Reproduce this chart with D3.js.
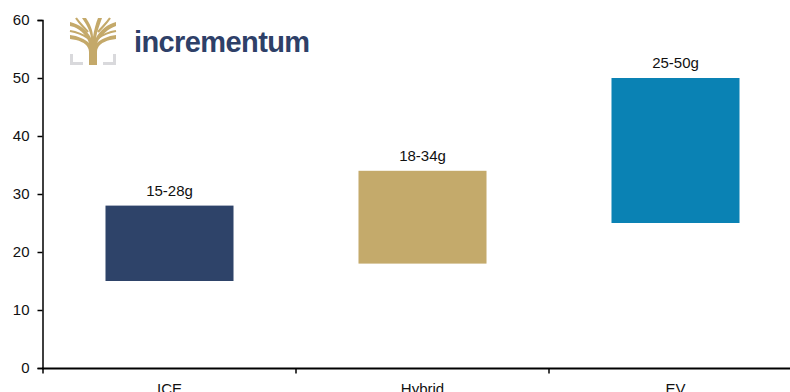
<!DOCTYPE html>
<html><head><meta charset="utf-8">
<script src="https://cdn.jsdelivr.net/npm/d3@7"></script>
<style>body{margin:0;background:#fff;overflow:hidden;}svg{display:block;font-family:"Liberation Sans",Arial,sans-serif;}</style>
</head><body>
<svg id="c" width="790" height="392"></svg>
<script>
const categories = ["ICE", "Hybrid", "EV"];
const lowValues = [15, 18, 25];
const highValues = [28, 34, 50];
const rangeLabels = ["15-28g", "18-34g", "25-50g"];
const barColors = ["#2e4369", "#c4aa6b", "#0a82b4"];
const yTicks = [0, 10, 20, 30, 40, 50, 60];

const svg = d3.select("#c");
const x = d3.scaleBand().domain(categories).range([43, 802]).paddingInner(0.494).paddingOuter(0.247);
const y = d3.scaleLinear().domain([0, 60]).range([368, 20]);

const data = categories.map((c, i) => ({c, lo: lowValues[i], hi: highValues[i], label: rangeLabels[i], color: barColors[i]}));

svg.selectAll("rect.bar").data(data).join("rect").attr("class","bar")
  .attr("x", d => x(d.c)).attr("width", x.bandwidth())
  .attr("y", d => y(d.hi)).attr("height", d => y(d.lo) - y(d.hi))
  .attr("fill", d => d.color);

svg.selectAll("text.lbl").data(data).join("text").attr("class","lbl")
  .attr("x", d => x(d.c) + x.bandwidth()/2).attr("y", d => y(d.hi) - 10)
  .attr("text-anchor","middle").attr("font-size", 15).attr("fill","#111").text(d => d.label);

// y axis
const ya = svg.append("g").attr("transform","translate(42.5,0)")
  .call(d3.axisLeft(y).tickValues(yTicks).tickSize(5).tickPadding(8));
ya.select(".domain").attr("stroke","#000").attr("stroke-width",1.5);
ya.selectAll(".tick line").attr("stroke","#000").attr("stroke-width",1.5);
ya.selectAll(".tick text").attr("font-size",15).attr("fill","#111").attr("font-family","Liberation Sans, Arial, sans-serif");

// x axis
const xb = d3.scalePoint().domain(d3.range(categories.length + 1)).range([43, 802]);
const xa = svg.append("g").attr("transform","translate(0,368.5)");
xa.append("line").attr("x1",42).attr("x2",790).attr("stroke","#000").attr("stroke-width",1.8);
xa.selectAll("line.tk").data(d3.range(categories.length + 1)).join("line").attr("class","tk")
  .attr("x1", d => xb(d)).attr("x2", d => xb(d)).attr("y1",0).attr("y2",5).attr("stroke","#000").attr("stroke-width",1.5);
xa.selectAll("text").data(categories).join("text")
  .attr("x", d => x(d) + x.bandwidth()/2).attr("y", 25).attr("text-anchor","middle")
  .attr("font-size",15).attr("fill","#111").text(d => d);

// logo
const logo = svg.append("g").attr("transform","translate(70,18)");
const gold = "#c4a96a";
logo.append("path").attr("fill","#d9d9dc")
  .attr("d","M0,36 h3 v8 h10 v3 h-13 Z M46,36 h-3 v8 h-10 v3 h13 Z");
logo.append("path").attr("fill",gold)
  .attr("d","M19,47 L19,34 C19,28 14,24 6,22 L0,21 L0,17 C8,18 15,21 19,25 C17,18 11,12 4,9 L0,8 L0,4 C9,6 17,12 21,20 C20,12 16,6 12,0 L16,0 C20,6 23,12 23,19 C24,12 26,5 28,0 L32,0 C30,6 27,13 26,20 C30,12 38,6 46,4 L46,8 C38,11 31,17 27,25 C31,21 38,18 46,17 L46,21 L40,22 C32,24 27,28 27,34 L27,47 Z");
logo.append("path").attr("fill","none").attr("stroke",gold).attr("stroke-width",2.2)
  .attr("d","M6,0 C10,6 14,9 18,14 M40,0 C36,6 32,9 28,14 M0,13 C6,14 12,16 18,20 M46,13 C40,14 34,16 28,20");
svg.append("text").attr("x",134).attr("y",52).attr("font-size",29).attr("font-weight","bold")
  .attr("fill","#2e4068").attr("letter-spacing","-0.6").text("incrementum");
</script>
</body></html>
